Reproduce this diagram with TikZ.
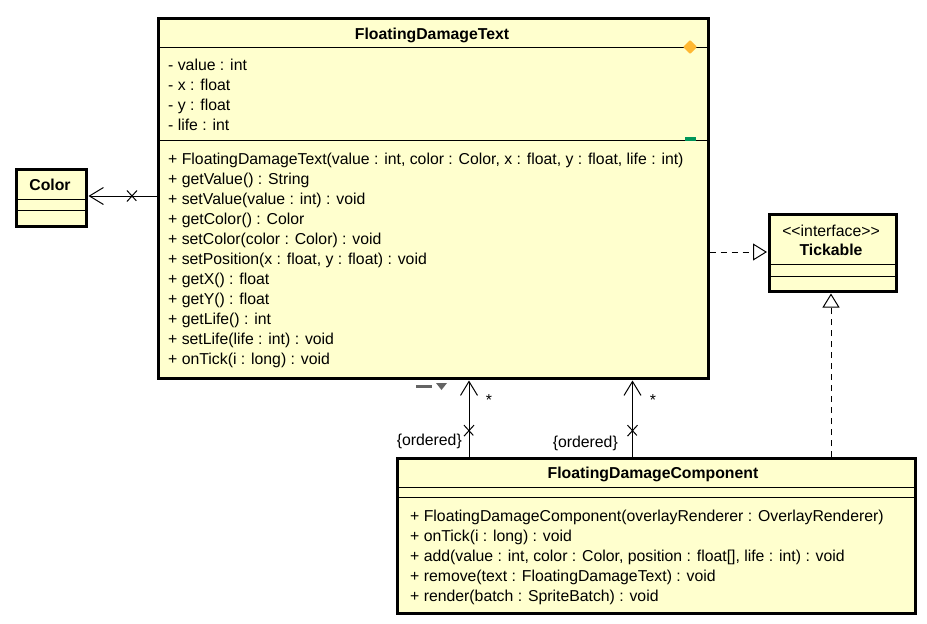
\documentclass[tikz,border=0pt]{standalone}
\usepackage{fontspec}
\setmainfont{Liberation Sans}
\usetikzlibrary{arrows.meta, positioning, shapes.misc}
\definecolor{umlfill}{RGB}{255,255,206}
\definecolor{attrorange}{RGB}{255,184,51}
\definecolor{opgreen}{RGB}{0,150,90}
\definecolor{icongray}{RGB}{100,100,100}

\begin{document}
\begin{tikzpicture}[x=1pt, y=1pt, >=Stealth,
  every node/.style={font=\fontsize{15.8}{20}\selectfont, inner sep=0pt},
  classbox/.style={draw, line width=2.5pt, fill=umlfill, anchor=north west},
  classname/.style={anchor=base, font=\fontsize{15.8}{20}\selectfont\bfseries},
  member/.style={anchor=base west},
  sep/.style={line width=1pt},
  assoc/.style={line width=1pt, shorten >=1pt, -{Straight Barb[length=14pt, width=17pt]}},
  realize/.style={line width=1pt, dash pattern=on 6pt off 5pt, shorten >=1pt, -{Triangle[open, length=14pt, width=17pt]}},
  xmark/.style={cross out, draw, line width=1pt, minimum width=9pt, minimum height=10pt}]
  \useasboundingbox (0,0) rectangle (927,-624);

  \node[classbox, minimum width=550pt, minimum height=360pt] (fdt) at (157,-17) {};
  \node[classbox, minimum width=70pt, minimum height=57pt] (color) at (15,-168) {};
  \node[classbox, minimum width=127pt, minimum height=77pt] (tick) at (768,-213) {};
  \node[classbox, minimum width=518pt, minimum height=155pt] (fdc) at (396,-457) {};

  \draw[sep] (fdt.west |- 0,-47) -- (fdt.east |- 0,-47);
  \draw[sep] (fdt.west |- 0,-140) -- (fdt.east |- 0,-140);
  \draw[sep] (color.west |- 0,-199) -- (color.east |- 0,-199);
  \draw[sep] (color.west |- 0,-210) -- (color.east |- 0,-210);
  \draw[sep] (tick.west |- 0,-264) -- (tick.east |- 0,-264);
  \draw[sep] (tick.west |- 0,-276) -- (tick.east |- 0,-276);
  \draw[sep] (fdc.west |- 0,-487) -- (fdc.east |- 0,-487);
  \draw[sep] (fdc.west |- 0,-497) -- (fdc.east |- 0,-497);

  \node[classname] (fdtname) at (432,-39) {FloatingDamageText};
  \node[classname] (colorname) at (50,-190) {Color};
  \node[anchor=base] (tickstereo) at (831,-236) {<\kern0pt<interface>\kern0pt>};
  \node[classname] (tickname) at (831,-255) {Tickable};
  \node[classname] (fdcname) at (653,-478) {FloatingDamageComponent};

  \foreach \m [count=\i] in {- value : int, - x : float, - y : float, - life : int}
    \node[member] (fdtattr\i) at (168,{-70-20*(\i-1)}) {\m};
  \foreach \m [count=\i] in {{+ FloatingDamageText(value : int, color : Color, x : float, y : float, life : int)},
      + getValue() : String, + setValue(value : int) : void, + getColor() : Color,
      + setColor(color : Color) : void, {+ setPosition(x : float, y : float) : void},
      + getX() : float, + getY() : float, + getLife() : int,
      + setLife(life : int) : void, + onTick(i : long) : void}
    \node[member] (fdtop\i) at (168,{-164-20*(\i-1)}) {\m};
  \foreach \m [count=\i] in {+ FloatingDamageComponent(overlayRenderer : OverlayRenderer),
      + onTick(i : long) : void, {+ add(value : int, color : Color, position : float[], life : int) : void},
      + remove(text : FloatingDamageText) : void, + render(batch : SpriteBatch) : void}
    \node[member] (fdcop\i) at (410,{-521-20*(\i-1)}) {\m};

  \fill[attrorange, rounded corners=1pt] (690,-40) -- (697,-47) -- (690,-54) -- (683,-47) -- cycle;
  \fill[opgreen] (685,-137) rectangle (696,-141);
  \fill[icongray] (416,-385) rectangle (432,-387.5);
  \fill[icongray] (436,-383) -- (447,-383) -- (441.5,-390) -- cycle;

  \draw[assoc] (fdt.west |- 0,-196) -- node[xmark, pos=0.36] (colorx) {} (color.east |- 0,-196);
  \draw[assoc] (fdc.north -| 469,0) -- node[xmark, pos=0.34] (textx1) {} (fdt.south -| 469,0);
  \draw[assoc] (fdc.north -| 632.5,0) -- node[xmark, pos=0.34] (textx2) {} (fdt.south -| 632.5,0);
  \node (star1) at (489,-400) {*};
  \node (star2) at (653,-400) {*};
  \node[anchor=base east] (ordered1) at (462,-445) {\{ordered\}};
  \node[anchor=base east] (ordered2) at (618,-447) {\{ordered\}};

  \draw[realize] (fdt.east |- 0,-252) -- (tick.west |- 0,-252);
  \draw[realize] (fdc.north -| 831,0) -- (tick.south -| 831,0);
\end{tikzpicture}
\end{document}
